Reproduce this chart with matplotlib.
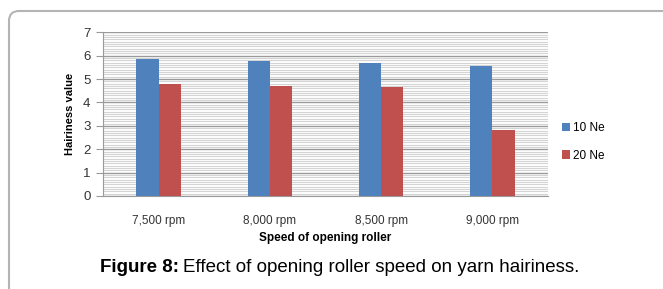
import numpy as np
import matplotlib
matplotlib.use("Agg")
import matplotlib.pyplot as plt
from matplotlib.patches import FancyBboxPatch

# data
speeds = ["7,500 rpm", "8,000 rpm", "8,500 rpm", "9,000 rpm"]
ne10 = [5.84, 5.77, 5.70, 5.57]
ne20 = [4.81, 4.71, 4.67, 2.82]
series_names = ["10 Ne", "20 Ne"]

plt.rcParams["font.family"] = ["Liberation Sans", "DejaVu Sans"]

fig = plt.figure(figsize=(6.63, 2.89), dpi=100)

# rounded frame round the figure (pixel coords)
frame = FancyBboxPatch((9, -30), 720, 289 - 11 + 30,
                       boxstyle="round,pad=0,rounding_size=10",
                       transform=None, fill=False, edgecolor="#b4b4b4", lw=1.5)
fig.patches.append(frame)

ax = fig.add_axes([0.1554, 0.3218, 0.8265 - 0.1554, 0.8882 - 0.3218])

x = np.arange(len(speeds))
w = 0.2
ax.bar(x - w / 2, ne10, w, color="#4F81BD", label=series_names[0], zorder=3)
ax.bar(x + w / 2, ne20, w, color="#C0504D", label=series_names[1], zorder=3)

ax.set_xlim(-0.5, len(speeds) - 0.5)
ax.set_ylim(0, 7)
ax.set_yticks(range(0, 8))
ax.set_yticks(np.arange(0, 7.01, 0.1), minor=True)
ax.grid(axis="y", which="minor", color="#d4d4d4", lw=0.8, zorder=0)
ax.grid(axis="y", which="major", color="#9a9a9a", lw=1.0, zorder=1)

ax.set_xticks(x)
ax.set_xticklabels(speeds, fontsize=8.5, color="#333333")
ax.tick_params(axis="x", length=0, pad=14)
ax.tick_params(axis="y", which="major", length=5, color="#9a9a9a",
               labelsize=9.5, labelcolor="#333333", pad=4)
ax.tick_params(axis="y", which="minor", length=0)

for s in ["top", "right"]:
    ax.spines[s].set_visible(False)
ax.spines["left"].set_color("#9a9a9a")
ax.spines["bottom"].set_color("#9a9a9a")

ax.set_xlabel("Speed of opening roller", fontsize=8.5, fontweight="bold", labelpad=3)
ax.set_ylabel("Hairiness value", fontsize=8, fontweight="bold", labelpad=6)

ax.legend(loc="center left", bbox_to_anchor=(1.02, 0.33), frameon=False,
          borderaxespad=0, fontsize=8.5, handlelength=0.7, handleheight=0.7,
          handletextpad=0.3, labelspacing=1.3)

# caption: bold part then normal part right after it
cap_y = 0.06
t1 = fig.text(0.151, cap_y, "Figure 8:", fontsize=13.5, fontweight="bold")
fig.canvas.draw()
bb = t1.get_window_extent(fig.canvas.get_renderer())
x_next = (bb.x1 + 4) / fig.bbox.width
fig.text(x_next, cap_y, "Effect of opening roller speed on yarn hairiness.",
         fontsize=13.5)

fig.savefig("out.png", dpi=100)
